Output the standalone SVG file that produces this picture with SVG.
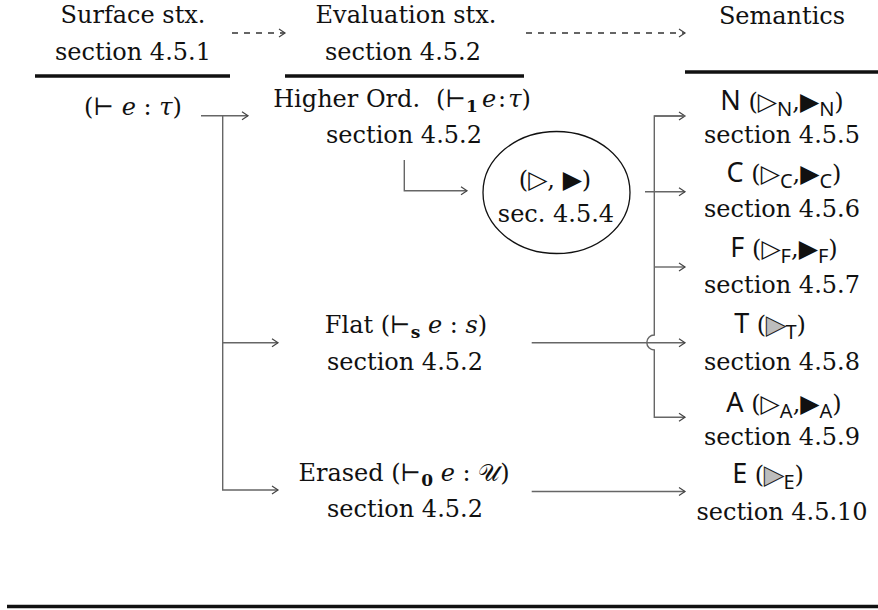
<svg xmlns="http://www.w3.org/2000/svg" width="878" height="610" viewBox="0 0 878 610">
  <style>
    .serif { font-family: "DejaVu Serif", "Liberation Serif", serif; font-size: 24px; fill: #111; }
    .it { font-style: italic; }
    .bsub { font-weight: bold; font-size: 17px; }
    .sans { font-family: "Noto Sans", "DejaVu Sans", sans-serif; font-size: 27px; fill: #111; }
    .ssub { font-family: "Noto Sans", "DejaVu Sans", sans-serif; font-size: 20px; }
    .sym { font-family: "DejaVu Sans", sans-serif; font-size: 25px; }
    .gray { fill: #bdbdbd; stroke: #222; stroke-width: 1; }
    .rule { stroke: #111; stroke-width: 3.5; }
    .wire { fill: none; stroke: #666; stroke-width: 1.4; }
    .dash { fill: none; stroke: #333; stroke-width: 1.3; stroke-dasharray: 6 6; }
  </style>
  <defs>
    <marker id="head" markerUnits="userSpaceOnUse" markerWidth="10" markerHeight="12" refX="8" refY="5" orient="auto">
      <path d="M2,1 L8,5 L2,9" fill="none" stroke="#444" stroke-width="1.2"/>
    </marker>
  </defs>

  <rect width="878" height="610" fill="#fff"/>

  <!-- column headers and rules -->
  <g id="surface-header">
    <text class="serif" x="133" y="23" text-anchor="middle">Surface stx.</text>
    <text class="serif" x="133" y="60" text-anchor="middle">section 4.5.1</text>
    <line class="rule" x1="35" y1="76" x2="230" y2="76"/>
  </g>
  <g id="evaluation-header">
    <text class="serif" x="406" y="23" text-anchor="middle">Evaluation stx.</text>
    <text class="serif" x="403" y="60" text-anchor="middle">section 4.5.2</text>
    <line class="rule" x1="285" y1="76" x2="524" y2="76"/>
  </g>
  <g id="semantics-header">
    <text class="serif" x="782" y="24" text-anchor="middle">Semantics</text>
    <line class="rule" x1="685" y1="72" x2="878" y2="72"/>
  </g>

  <!-- surface syntax -->
  <g id="surface">
    <text class="serif" x="133" y="115" text-anchor="middle">(⊢ <tspan class="it">e</tspan> : <tspan class="it">τ</tspan>)</text>
  </g>

  <!-- evaluation syntaxes -->
  <g id="higher-order">
    <text class="serif" x="402" y="107" text-anchor="middle">Higher Ord.<tspan dx="16">(⊢</tspan><tspan class="bsub" dy="5">1</tspan><tspan dy="-5" dx="4"><tspan class="it">e</tspan><tspan dx="2">:</tspan><tspan class="it" dx="2">τ</tspan>)</tspan></text>
    <text class="serif" x="404" y="143" text-anchor="middle">section 4.5.2</text>
  </g>
  <g id="mixed">
    <ellipse cx="556.5" cy="192.5" rx="73.5" ry="61" fill="none" stroke="#111" stroke-width="1.3"/>
    <text class="serif" x="555" y="188" text-anchor="middle">(<tspan class="sym">▷</tspan>, <tspan class="sym">▶</tspan>)</text>
    <text class="serif" x="556" y="222" text-anchor="middle">sec. 4.5.4</text>
  </g>
  <g id="flat">
    <text class="serif" x="406" y="333" text-anchor="middle">Flat (⊢<tspan class="bsub" dy="5">s</tspan><tspan dy="-5"> </tspan><tspan class="it">e</tspan> : <tspan class="it">s</tspan>)</text>
    <text class="serif" x="405" y="370" text-anchor="middle">section 4.5.2</text>
  </g>
  <g id="erased">
    <text class="serif" x="404" y="481" text-anchor="middle">Erased (⊢<tspan class="bsub" dy="5">0</tspan><tspan dy="-5"> </tspan><tspan class="it">e</tspan> : 𝒰)</text>
    <text class="serif" x="405" y="517" text-anchor="middle">section 4.5.2</text>
  </g>

  <!-- semantics -->
  <g id="sem-N">
    <text class="serif" x="782" y="110" text-anchor="middle"><tspan class="sans">N</tspan> (<tspan class="sym">▷</tspan><tspan class="ssub" dy="6">N</tspan><tspan dy="-6">,</tspan><tspan class="sym">▶</tspan><tspan class="ssub" dy="6">N</tspan><tspan dy="-6">)</tspan></text>
    <text class="serif" x="782" y="143" text-anchor="middle">section 4.5.5</text>
  </g>
  <g id="sem-C">
    <text class="serif" x="784" y="182" text-anchor="middle"><tspan class="sans">C</tspan> (<tspan class="sym">▷</tspan><tspan class="ssub" dy="6">C</tspan><tspan dy="-6">,</tspan><tspan class="sym">▶</tspan><tspan class="ssub" dy="6">C</tspan><tspan dy="-6">)</tspan></text>
    <text class="serif" x="782" y="217" text-anchor="middle">section 4.5.6</text>
  </g>
  <g id="sem-F">
    <text class="serif" x="784" y="257" text-anchor="middle"><tspan class="sans">F</tspan> (<tspan class="sym">▷</tspan><tspan class="ssub" dy="6">F</tspan><tspan dy="-6">,</tspan><tspan class="sym">▶</tspan><tspan class="ssub" dy="6">F</tspan><tspan dy="-6">)</tspan></text>
    <text class="serif" x="782" y="293" text-anchor="middle">section 4.5.7</text>
  </g>
  <g id="sem-T">
    <text class="serif" x="770" y="333" text-anchor="middle"><tspan class="sans">T</tspan> (<tspan class="sym gray">▶</tspan><tspan class="ssub" dy="6">T</tspan><tspan dy="-6">)</tspan></text>
    <text class="serif" x="782" y="370" text-anchor="middle">section 4.5.8</text>
  </g>
  <g id="sem-A">
    <text class="serif" x="784" y="412" text-anchor="middle"><tspan class="sans">A</tspan> (<tspan class="sym">▷</tspan><tspan class="ssub" dy="6">A</tspan><tspan dy="-6">,</tspan><tspan class="sym">▶</tspan><tspan class="ssub" dy="6">A</tspan><tspan dy="-6">)</tspan></text>
    <text class="serif" x="782" y="445" text-anchor="middle">section 4.5.9</text>
  </g>
  <g id="sem-E">
    <text class="serif" x="768" y="483" text-anchor="middle"><tspan class="sans">E</tspan> (<tspan class="sym gray">▶</tspan><tspan class="ssub" dy="6">E</tspan><tspan dy="-6">)</tspan></text>
    <text class="serif" x="782" y="520" text-anchor="middle">section 4.5.10</text>
  </g>

  <!-- connectors -->
  <g id="connectors">
    <path class="dash" d="M232,33 H285" marker-end="url(#head)"/>
    <path class="dash" d="M526,33 H685" marker-end="url(#head)"/>
    <path class="wire" d="M201,115.7 H248" marker-end="url(#head)"/>
    <path class="wire" d="M222.7,115.7 V490 H278" marker-end="url(#head)"/>
    <path class="wire" d="M222.7,342.7 H278" marker-end="url(#head)"/>
    <path class="wire" d="M404.3,160 V190.7 H467" marker-end="url(#head)"/>
    <path class="wire" d="M645,191.7 H685" marker-end="url(#head)"/>
    <path class="wire" d="M654.3,116 H685" marker-end="url(#head)"/>
    <path class="wire" d="M654.3,267 H685" marker-end="url(#head)"/>
    <path class="wire" d="M685,116 H654.3 V335 A7.5,7.5 0 0 0 654.3,350 V417.3 H685" marker-end="url(#head)"/>
    <path class="wire" d="M531.7,342.7 H685" marker-end="url(#head)"/>
    <path class="wire" d="M531.7,491.5 H685" marker-end="url(#head)"/>
  </g>

  <line class="rule" x1="7" y1="606.5" x2="878" y2="606.5" stroke-width="3"/>
</svg>
